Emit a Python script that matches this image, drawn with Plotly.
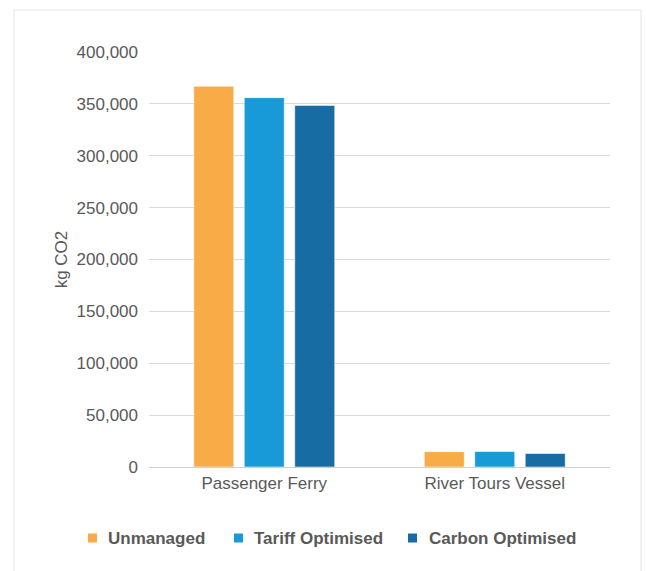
import plotly.graph_objects as go

# Categories and series (kg CO2)
vessels = ["Passenger Ferry", "River Tours Vessel"]
series_names = ["Unmanaged", "Tariff Optimised", "Carbon Optimised"]
unmanaged = [367000, 14800]
tariff_optimised = [356000, 14900]
carbon_optimised = [348500, 13000]
y_ticks = [0, 50000, 100000, 150000, 200000, 250000, 300000, 350000, 400000]

colors = ["#F9AB48", "#179AD7", "#176CA4"]
text_color = "#595959"
font_family = "Liberation Sans, Arial, Helvetica, sans-serif"

fig = go.Figure()
for name, vals, col in zip(series_names, [unmanaged, tariff_optimised, carbon_optimised], colors):
    fig.add_trace(go.Bar(
        x=vessels, y=vals, name=name, showlegend=False,
        marker=dict(color=col, line=dict(color="rgba(255,255,255,0.55)", width=1)),
    ))

L, R, T, B = 149, 36, 52, 104
W, H = 646, 571
pw, ph = W - L - R, H - T - B

def px_x(x):
    return (x - L) / pw

def px_y(y):
    return (H - B - y) / ph

# Legend row below the axis: swatch left edges and label starts (pixels)
legend_y = 538
swatch_left = [88, 234, 408]
label_left = [106, 252, 427]

shapes = [dict(
    type="rect", xref="paper", yref="paper", layer="below",
    x0=px_x(14), x1=px_x(641), y0=px_y(580), y1=px_y(10),
    line=dict(color="#E6E6E6", width=1), fillcolor="rgba(0,0,0,0)",
)]
annotations = []
for name, col, sx, lx in zip(series_names, colors, swatch_left, label_left):
    shapes.append(dict(
        type="rect", xref="paper", yref="paper",
        x0=px_x(sx), x1=px_x(sx + 9), y0=px_y(legend_y + 4.5), y1=px_y(legend_y - 4.5),
        line=dict(width=0), fillcolor=col,
    ))
    annotations.append(dict(
        text=name, xref="paper", yref="paper", x=px_x(lx), y=px_y(legend_y),
        xanchor="left", yanchor="middle", showarrow=False,
        font=dict(size=17, color=text_color, family=font_family, weight="bold"),
    ))

fig.update_layout(
    width=W, height=H,
    margin=dict(l=L, r=R, t=T, b=B),
    paper_bgcolor="white", plot_bgcolor="white",
    font=dict(family=font_family, size=17, color=text_color),
    barmode="group", bargap=0.343, bargroupgap=0.208,
    showlegend=False,
    xaxis=dict(
        showgrid=False, showline=False, ticks="",
        tickfont=dict(size=17, color=text_color),
        ticklabelstandoff=4,
    ),
    yaxis=dict(
        range=[0, 400000], tickvals=y_ticks,
        tickformat=",d",
        showgrid=True, gridcolor="#D9D9D9", gridwidth=1,
        zeroline=True, zerolinecolor="#D0D0D0", zerolinewidth=1,
        showline=False, ticks="",
        tickfont=dict(size=17, color=text_color),
        ticklabelstandoff=10,
        title=dict(text="kg CO2", font=dict(size=17, color=text_color), standoff=4),
    ),
    shapes=shapes,
    annotations=annotations,
)

fig.write_html("out.html")
